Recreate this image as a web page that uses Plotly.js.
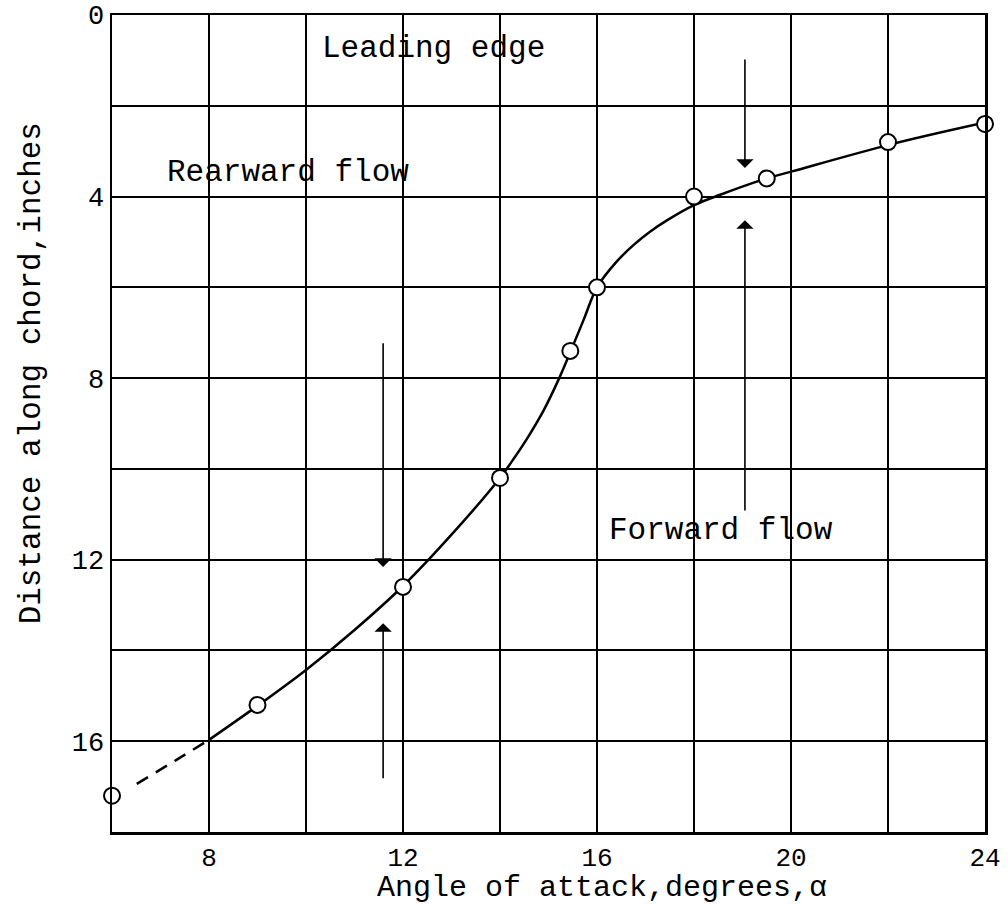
<!DOCTYPE html>
<html>
<head>
<meta charset="utf-8">
<script src="https://cdn.plot.ly/plotly-3.0.1.min.js"></script>
<style>html,body{margin:0;padding:0;background:#fff;}#chart{width:1008px;height:906px;}</style>
</head>
<body>
<div id="chart"></div>
<script>
// Measured points (angle of attack, distance along chord)
const pointAngle = [6, 9, 12, 14, 15.45, 16, 18, 19.5, 22, 24];
const pointDist  = [17.2, 15.2, 12.6, 10.2, 7.4, 6.0, 4.0, 3.6, 2.8, 2.4];

// Faired curve
const curveAngle = [8.0, 9.0, 10.0, 11.0, 12.0, 13.0, 14.0, 14.3, 14.6, 14.9, 15.2, 15.46, 15.73, 16.0, 16.4, 16.75, 17.1, 17.45, 18.0, 18.54, 19.5, 20.04, 22.06, 24.0];
const curveDist  = [15.97, 15.22, 14.43, 13.55, 12.58, 11.45, 10.2, 9.75, 9.26, 8.71, 8.05, 7.40, 6.70, 6.0, 5.44, 5.07, 4.77, 4.52, 4.19, 3.96, 3.60, 3.44, 2.85, 2.37];

// Extrapolated (dashed) part
const dashAngle = [6.51, 7.33, 8.0];
const dashDist  = [16.94, 16.41, 15.97];

// Ticks
const xTickVals = [6, 8, 10, 12, 14, 16, 18, 20, 22, 24];
const xTickText = ['', '8', '', '12', '', '16', '', '20', '', '24'];
const yTickVals = [0, 2, 4, 6, 8, 10, 12, 14, 16, 18];
const yTickText = ['0', '', '4', '', '8', '', '12', '', '16', ''];

// Flow arrows: [x, tipY, tailY]
const arrowX    = [19.05, 19.05, 11.59, 11.59];
const arrowTip  = [3.37, 4.52, 12.16, 13.4];
const arrowTail = [0.95, 10.95, 7.2, 16.85];

// Region labels
const labelText  = ['Leading edge', 'Rearward flow', 'Forward flow'];
const labelAngle = [10.29, 7.09, 16.21];
const labelDist  = [0.73, 3.46, 11.35];

const FONT = 'Liberation Mono, Courier New, monospace';

const traces = [
  {x: dashAngle, y: dashDist, mode: 'lines', line: {color: '#000', width: 2.5, dash: '13px,9px', shape: 'spline'}, hoverinfo: 'skip'},
  {x: curveAngle, y: curveDist, mode: 'lines', line: {color: '#000', width: 2.5, shape: 'spline', smoothing: 1}, hoverinfo: 'skip'},
  {x: pointAngle, y: pointDist, mode: 'markers', cliponaxis: false,
   marker: {symbol: 'circle', size: 16, color: '#fff', line: {color: '#000', width: 2}}}
];

const annotations = [];
for (let i = 0; i < arrowX.length; i++) {
  annotations.push({x: arrowX[i], y: arrowTip[i], ax: arrowX[i], ay: arrowTail[i],
    xref: 'x', yref: 'y', axref: 'x', ayref: 'y', text: '', showarrow: true,
    arrowhead: 1, arrowsize: 1.8, arrowwidth: 1.6, arrowcolor: '#000'});
}
for (let i = 0; i < labelText.length; i++) {
  annotations.push({x: labelAngle[i], y: labelDist[i], xref: 'x', yref: 'y', text: labelText[i],
    showarrow: false, xanchor: 'left', yanchor: 'middle', font: {family: FONT, size: 31, color: '#000'}});
}
annotations.push({x: 0.561, y: -0.069, xref: 'paper', yref: 'paper', text: 'Angle of attack,degrees,α',
  showarrow: false, xanchor: 'center', yanchor: 'middle', font: {family: FONT, size: 30, color: '#000'}});
annotations.push({x: -0.092, y: 0.561, xref: 'paper', yref: 'paper', text: 'Distance along chord,inches',
  textangle: -90, showarrow: false, xanchor: 'center', yanchor: 'middle', font: {family: FONT, size: 31, color: '#000'}});

const layout = {
  width: 1008, height: 906,
  margin: {l: 112, r: 23, t: 15, b: 74},
  paper_bgcolor: '#fff', plot_bgcolor: '#fff',
  showlegend: false,
  xaxis: {range: [6, 24], tickvals: xTickVals, ticktext: xTickText, showgrid: true, gridcolor: '#000', gridwidth: 2,
    zeroline: false, showline: true, linecolor: '#000', linewidth: 2.5, mirror: true, ticks: '',
    tickfont: {family: FONT, size: 26, color: '#000'}, fixedrange: true},
  yaxis: {range: [18, 0], tickvals: yTickVals, ticktext: yTickText, showgrid: true, gridcolor: '#000', gridwidth: 2,
    zeroline: false, showline: true, linecolor: '#000', linewidth: 2.5, mirror: true, ticks: '',
    tickfont: {family: FONT, size: 27, color: '#000'}, fixedrange: true},
  annotations: annotations
};

Plotly.newPlot('chart', traces, layout, {displayModeBar: false, staticPlot: true});
</script>
</body>
</html>
